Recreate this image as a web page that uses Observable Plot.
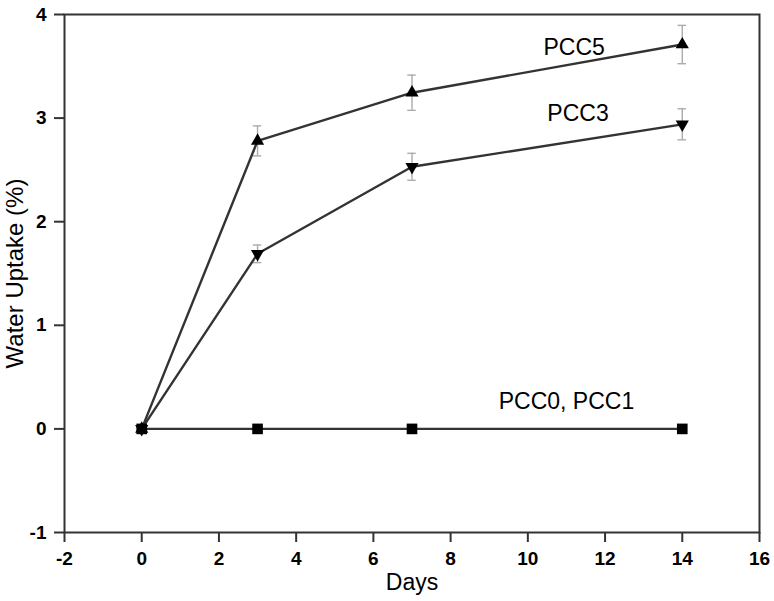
<!DOCTYPE html>
<html>
<head>
<meta charset="utf-8">
<script src="https://cdn.jsdelivr.net/npm/d3@7"></script>
<script src="https://cdn.jsdelivr.net/npm/@observablehq/plot@0.6"></script>
<style>
  html, body { margin: 0; padding: 0; background: #fff; }
  #chart svg { display: block; }
</style>
</head>
<body>
<div id="chart"></div>
<script>
// ---- data ----
const days = [0, 3, 7, 14];
const pcc5 = [0, 2.78, 3.245, 3.71];
const pcc5Err = [0, 0.145, 0.17, 0.185];
const pcc3 = [0, 1.69, 2.53, 2.94];
const pcc3Err = [0, 0.085, 0.13, 0.15];
const pcc01 = [0, 0, 0, 0];

const xTicks = [-2, 0, 2, 4, 6, 8, 10, 12, 14, 16];
const yTicks = [-1, 0, 1, 2, 3, 4];

const labelText = ["PCC5", "PCC3", "PCC0, PCC1"];
const labelX = [11.2, 11.3, 11.0];
const labelY = [3.68, 3.04, 0.26];

// ---- build tables ----
const s5 = days.map((d, i) => ({x: d, y: pcc5[i], e: pcc5Err[i]}));
const s3 = days.map((d, i) => ({x: d, y: pcc3[i], e: pcc3Err[i]}));
const s01 = days.map((d, i) => ({x: d, y: pcc01[i]}));
const errs = [...s5, ...s3].filter(d => d.e > 0);
const labels = labelText.map((t, i) => ({t, x: labelX[i], y: labelY[i]}));

const triangleDown = {
  draw(context, size) {
    const y = -Math.sqrt(size / (Math.sqrt(3) * 3));
    context.moveTo(0, -y * 2);
    context.lineTo(-Math.sqrt(3) * y, y);
    context.lineTo(Math.sqrt(3) * y, y);
    context.closePath();
  }
};

const cap = 0.11;
const font = "Liberation Sans, Arial, sans-serif";
const lineColor = "#333";
const errColor = "#ababab";

const chart = Plot.plot({
  width: 774,
  height: 601,
  marginLeft: 64,
  marginRight: 15,
  marginTop: 14,
  marginBottom: 69,
  style: {fontFamily: font, background: "#fff", color: "#000"},
  x: {domain: [-2, 16]},
  y: {domain: [-1, 4]},
  marks: [
    Plot.axisX({ticks: xTicks, tickSize: 10, tickPadding: 9, fontSize: 19, fontWeight: "bold", stroke: lineColor, strokeWidth: 2, label: null, tickFormat: d => String(d)}),
    Plot.axisY({ticks: yTicks, tickSize: 10, tickPadding: 8, fontSize: 19, fontWeight: "bold", stroke: lineColor, strokeWidth: 2, label: null, tickFormat: d => String(d)}),
    Plot.frame({stroke: lineColor, strokeWidth: 2}),
    Plot.text(["Days"], {frameAnchor: "bottom", dy: 57, fontSize: 23, fill: "#000"}),
    Plot.text(["Water Uptake (%)"], {frameAnchor: "left", dx: -49, rotate: -90, textAnchor: "middle", fontSize: 24, fill: "#000"}),
    // error bars
    Plot.ruleX(errs, {x: "x", y1: d => d.y - d.e, y2: d => d.y + d.e, stroke: errColor, strokeWidth: 1.4}),
    Plot.ruleY(errs, {y: d => d.y + d.e, x1: d => d.x - cap, x2: d => d.x + cap, stroke: errColor, strokeWidth: 1.4}),
    Plot.ruleY(errs, {y: d => d.y - d.e, x1: d => d.x - cap, x2: d => d.x + cap, stroke: errColor, strokeWidth: 1.4}),
    // lines
    Plot.line(s01, {x: "x", y: "y", stroke: lineColor, strokeWidth: 2.4}),
    Plot.line(s3, {x: "x", y: "y", stroke: lineColor, strokeWidth: 2.4}),
    Plot.line(s5, {x: "x", y: "y", stroke: lineColor, strokeWidth: 2.4}),
    // markers
    Plot.dot(s01, {x: "x", y: "y", symbol: "square", r: 6, fill: "#000", stroke: "none"}),
    Plot.dot(s3, {x: "x", y: "y", symbol: triangleDown, r: 4.9, fill: "#000", stroke: "none"}),
    Plot.dot(s5, {x: "x", y: "y", symbol: "triangle", r: 4.9, fill: "#000", stroke: "none"}),
    // series labels
    Plot.text(labels, {x: "x", y: "y", text: "t", fontSize: 23, fill: "#000"})
  ]
});
document.getElementById("chart").appendChild(chart);
</script>
</body>
</html>
